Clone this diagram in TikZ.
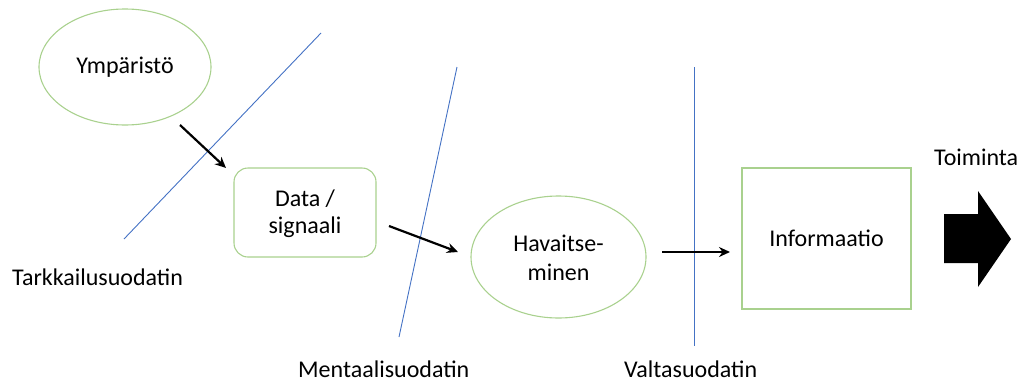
\documentclass[tikz,border=0pt]{standalone}
\usepackage{fontspec}
\setmainfont{Carlito}
\usetikzlibrary{shapes.geometric,arrows.meta}
\definecolor{boxgreen}{HTML}{A9D18E}
\definecolor{filterblue}{HTML}{4472C4}
\tikzset{
  lbl/.style={font=\fontsize{24}{26}\selectfont, inner sep=0pt, align=center},
  ell/.style={ellipse, draw=boxgreen, line width=1.1pt, inner sep=0pt},
  filter/.style={draw=filterblue, line width=0.9pt},
  flow/.style={draw=black, line width=2.2pt, -{Stealth[length=11pt,width=10pt]}},
}
\begin{document}
\begin{tikzpicture}[x=1pt,y=-1pt]
\useasboundingbox (0,0) rectangle (1024,383);
% nodes
\node[ell, minimum width=172pt, minimum height=116pt] (ymp) at (125,67) {};
\node[lbl] at (ymp.center) {Ympäristö};
\node[draw=boxgreen, line width=1.1pt, rounded corners=14pt, minimum width=142pt, minimum height=89pt, inner sep=0pt] (data) at (305,212.5) {};
\node[lbl] at (305,199) {Data /};
\node[lbl] at (305,227) {signaali};
\node[ell, minimum width=175pt, minimum height=122pt] (hav) at (558.5,257) {};
\node[lbl] at (558.5,243) {Havaitse-};
\node[lbl] at (558.5,272) {minen};
\node[draw=boxgreen, line width=1.1pt, minimum width=169pt, minimum height=141pt, inner sep=0pt] (info) at (826.5,238.5) {};
\node[lbl] at (info.center) {Informaatio};
% filter labels
\node[lbl, anchor=west] (tark) at (12,277) {Tarkkailusuodatin};
\node[lbl, anchor=west] (ment) at (298,369) {Mentaalisuodatin};
\node[lbl, anchor=west] (valt) at (624,369) {Valtasuodatin};
\node[lbl, anchor=west] (toim) at (934,157) {Toiminta};
% filter lines
\coordinate (f1a) at (321,33); \coordinate (f1b) at (124,239);
\coordinate (f2a) at (457,67); \coordinate (f2b) at (399,337);
\coordinate (f3a) at (694,67); \coordinate (f3b) at (694,346);
\draw[filter] (f1a) -- (f1b);
\draw[filter] (f2a) -- (f2b);
\draw[filter] (f3a) -- (f3b);
% flow arrows
\coordinate (a1s) at (180,125); \coordinate (a1e) at (226,168);
\coordinate (a2s) at (389,226); \coordinate (a2e) at (458,252);
\coordinate (a3s) at (662,252); \coordinate (a3e) at (730,252);
\draw[flow] (a1s) -- (a1e);
\draw[flow] (a2s) -- (a2e);
\draw[flow] (a3s) -- (a3e);
% block arrow
\fill[black] (944,214) -- (978,214) -- (978,191) -- (1011,239) -- (978,287) -- (978,263) -- (944,263) -- cycle;
\end{tikzpicture}
\end{document}
